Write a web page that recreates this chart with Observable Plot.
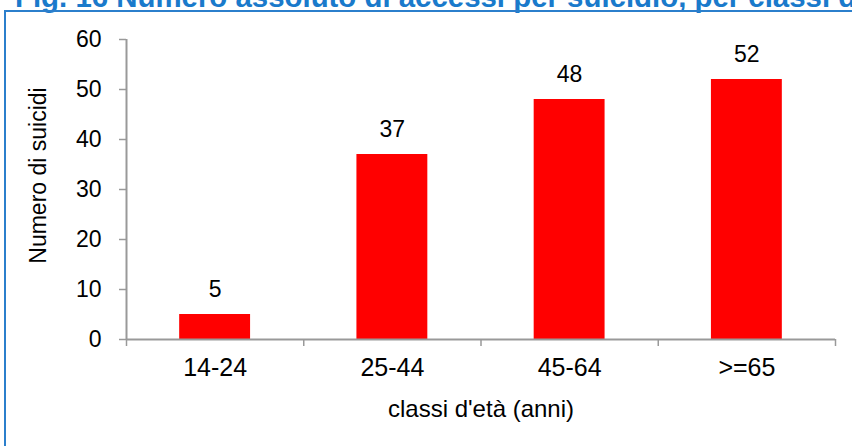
<!DOCTYPE html>
<html>
<head>
<meta charset="utf-8">
<script src="https://cdn.jsdelivr.net/npm/d3@7"></script>
<script src="https://cdn.jsdelivr.net/npm/@observablehq/plot@0.6"></script>
<style>
  html, body { margin: 0; padding: 0; background: #fff; }
  #wrap { position: relative; width: 852px; height: 446px; overflow: hidden; background: #fff; }
  #title { position: absolute; left: 15px; top: -20px; white-space: nowrap; line-height: 33px;
           font: bold 29.4px "Liberation Sans", Arial, sans-serif; color: #1A7ACB; }
  #box { position: absolute; left: 4px; top: 10px; width: 900px; height: 500px;
         border-left: 2px solid #2B7FCC; border-top: 2px solid #2B7FCC; box-sizing: border-box; }
  #chart { position: absolute; left: 0; top: 0; }
</style>
</head>
<body>
<div id="wrap">
  <div id="title">Fig. 16 Numero assoluto di accessi per suicidio, per classi d'età</div>
  <div id="box"></div>
  <div id="chart"></div>
</div>
<script>
const categories = ["14-24", "25-44", "45-64", ">=65"];
const values = [5, 37, 48, 52];
const yTicks = [0, 10, 20, 30, 40, 50, 60];
const xLabel = "classi d'età (anni)";
const yLabel = "Numero di suicidi";

const data = categories.map((c, i) => ({i, c, v: values[i]}));
const bounds = d3.range(categories.length + 1).map(i => i - 0.5);
const axisGray = "#999999";
const font = "Liberation Sans, Arial, sans-serif";

const chart = Plot.plot({
  width: 852,
  height: 446,
  marginLeft: 126,
  marginRight: 17,
  marginTop: 39,
  marginBottom: 107,
  style: {fontFamily: font, background: "transparent"},
  x: {type: "linear", domain: [-0.5, categories.length - 0.5]},
  y: {domain: [0, 60]},
  marks: [
    Plot.rectY(data, {x1: d => d.i - 0.2, x2: d => d.i + 0.2, y: "v", fill: "#FF0000"}),
    Plot.ruleY([0], {stroke: axisGray, strokeWidth: 2}),
    Plot.ruleX([-0.5], {y1: 0, y2: 60, stroke: axisGray, strokeWidth: 2}),
    Plot.axisY({ticks: yTicks, tickSize: 7, tickPadding: 18, stroke: axisGray, strokeWidth: 1.5,
                fill: "black", fontSize: 23, label: null}),
    Plot.axisX({ticks: bounds, tickSize: 7, tickFormat: () => "", stroke: axisGray, strokeWidth: 1.5, label: null}),
    Plot.axisX({ticks: data.map(d => d.i), tickSize: 0, tickPadding: 19, tickFormat: i => categories[i],
                fill: "black", fontSize: 25, label: null}),
    Plot.text(data, {x: "i", y: "v", text: d => String(d.v), dy: -25, fill: "black", fontSize: 23, lineAnchor: "middle"}),
    Plot.text([xLabel], {frameAnchor: "bottom", dy: 70, fill: "black", fontSize: 24, lineAnchor: "middle"}),
    Plot.text([yLabel], {frameAnchor: "left", textAnchor: "middle", rotate: -90, dx: -88, dy: -14,
                         fill: "black", fontSize: 23, lineAnchor: "middle"})
  ]
});
document.getElementById("chart").append(chart);
</script>
</body>
</html>
